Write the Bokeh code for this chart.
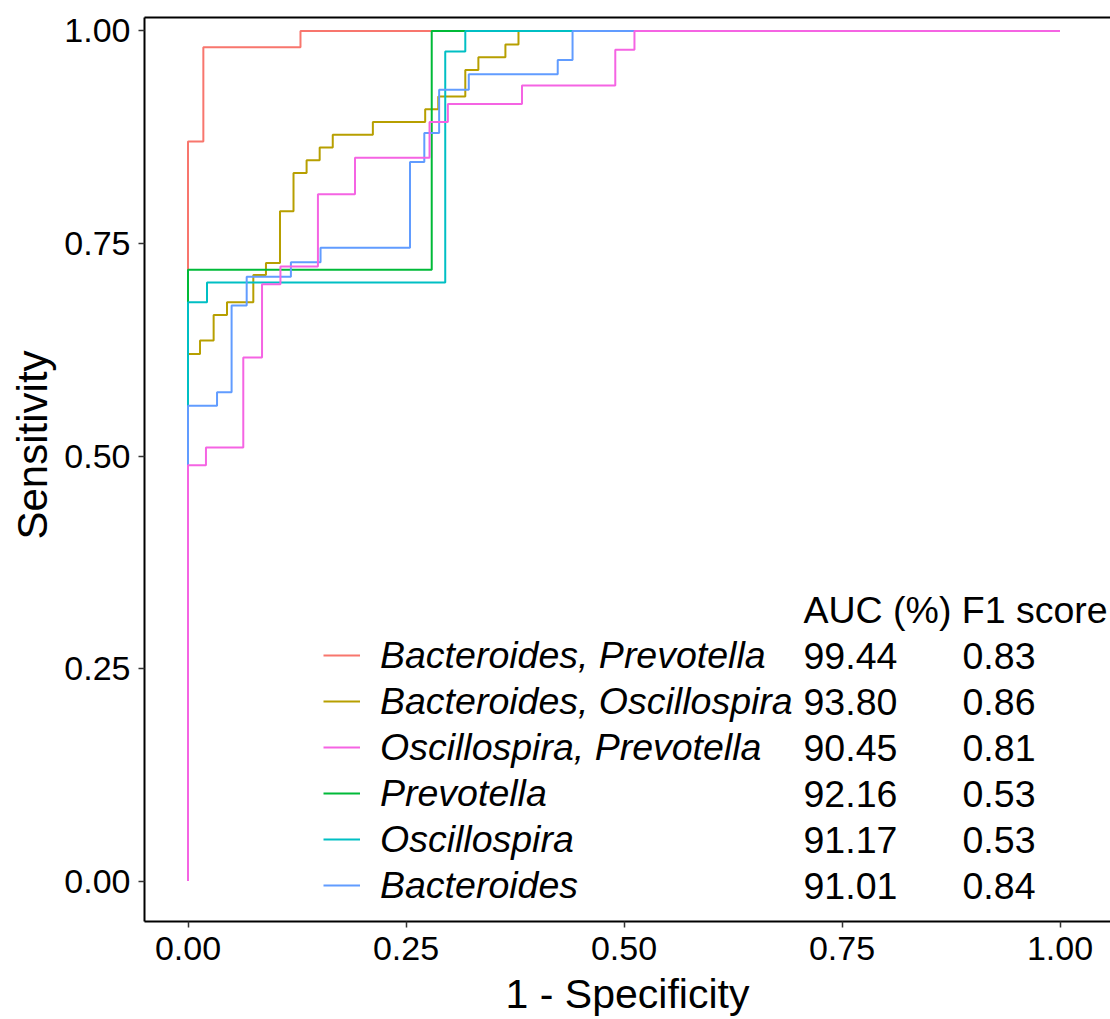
import numpy as np
from bokeh.plotting import figure
from bokeh.models import (Legend, LegendItem, LinearAxis, FixedTicker, Range1d,
                          PrintfTickFormatter, ColumnDataSource, Title)
from bokeh.embed import file_html
from bokeh.resources import INLINE
from bokeh.core.properties import value

# ---------------- data ----------------
series_names = ["Bacteroides, Prevotella", "Bacteroides, Oscillospira",
                "Oscillospira, Prevotella", "Prevotella", "Oscillospira", "Bacteroides"]
series_colors = ["#F8766D", "#B79F00", "#F564E3", "#00BA38", "#00BFC4", "#619CFF"]
auc_pct = [99.44, 93.80, 90.45, 92.16, 91.17, 91.01]
f1_score = [0.83, 0.86, 0.81, 0.53, 0.53, 0.84]

# ROC steps: 1-specificity at which sensitivity jumps, and sensitivity after the jump
bp_fpr = [0.0, 0.0176, 0.129]
bp_tpr = [0.870, 0.981, 1.0]

bo_fpr = [0.0, 0.0138, 0.0294, 0.0447, 0.0749, 0.0894, 0.1055, 0.121, 0.136, 0.151,
          0.166, 0.212, 0.272, 0.287, 0.318, 0.333, 0.364, 0.379]
bo_tpr = [0.620, 0.636, 0.666, 0.681, 0.713, 0.727, 0.788, 0.833, 0.848, 0.863,
          0.878, 0.893, 0.908, 0.923, 0.954, 0.969, 0.984, 1.0]

op_fpr = [0.0, 0.0206, 0.0634, 0.0849, 0.106, 0.149, 0.1915, 0.277, 0.298, 0.383, 0.490, 0.512]
op_tpr = [0.489, 0.510, 0.616, 0.702, 0.723, 0.808, 0.851, 0.893, 0.914, 0.936, 0.978, 1.0]

p_fpr = [0.0, 0.2795]
p_tpr = [0.719, 1.0]

o_fpr = [0.0, 0.0218, 0.295, 0.318]
o_tpr = [0.681, 0.704, 0.976, 1.0]

b_fpr = [0.0, 0.0333, 0.050, 0.0673, 0.118, 0.152, 0.2546, 0.271, 0.288, 0.322, 0.424, 0.441]
b_tpr = [0.559, 0.575, 0.677, 0.711, 0.728, 0.745, 0.846, 0.880, 0.931, 0.949, 0.966, 1.0]

roc_fpr = [bp_fpr, bo_fpr, op_fpr, p_fpr, o_fpr, b_fpr]
roc_tpr = [bp_tpr, bo_tpr, op_tpr, p_tpr, o_tpr, b_tpr]

ticks = [0.0, 0.25, 0.5, 0.75, 1.0]
x_title = "1 - Specificity"
y_title = "Sensitivity"


def roc_path(fpr, tpr):
    xs, ys = [0.0], [0.0]
    for f, t in zip(fpr, tpr):
        xs += [f, f]
        ys += [ys[-1], t]
    xs.append(1.0)
    ys.append(1.0)
    return xs, ys


# ---------------- layout (pixels) ----------------
W, H = 1110, 1019
FRAME_L, FRAME_T, FRAME_B = 144, 17, 922
ORIGIN_X, ORIGIN_Y = 187.5, 881.5  # pixel position of data (0, 0)
PPU_X, PPU_Y = 872.0, 851.0        # pixels per data unit

X0, X1 = -(ORIGIN_X - FRAME_L) / PPU_X, (W - ORIGIN_X) / PPU_X
Y0, Y1 = -(FRAME_B - ORIGIN_Y) / PPU_Y, (ORIGIN_Y - FRAME_T) / PPU_Y


def px_to_x(px):
    return (px - ORIGIN_X) / PPU_X


def px_to_y(py):
    return (ORIGIN_Y - py) / PPU_Y


FONT = "Liberation Sans"

p = figure(width=W, height=H, output_backend="svg", toolbar_location=None,
           x_range=Range1d(X0, X1), y_range=Range1d(Y0, Y1),
           min_border_left=FRAME_L, min_border_top=FRAME_T,
           min_border_bottom=H - FRAME_B, min_border_right=0,
           background_fill_color="white", border_fill_color="white",
           x_axis_label=x_title)
p.outline_line_color = None
p.grid.visible = False

for ax in (p.xaxis[0], p.yaxis[0]):
    ax.ticker = FixedTicker(ticks=ticks)
    ax.formatter = PrintfTickFormatter(format="%.2f")
    ax.minor_tick_line_color = None
    ax.major_tick_in = 0
    ax.major_tick_out = 6
    ax.major_tick_line_color = "#333333"
    ax.major_tick_line_width = 1.5
    ax.axis_line_color = "black"
    ax.axis_line_width = 2
    ax.major_label_text_font = FONT
    ax.major_label_text_font_size = "34px"
    ax.major_label_text_color = "black"

xa = p.xaxis[0]
xa.major_label_standoff = 9
xa.axis_label_standoff = 8
xa.axis_label_text_font = FONT
xa.axis_label_text_font_size = "41px"
xa.axis_label_text_font_style = "normal"
xa.axis_label_text_color = "black"
p.yaxis[0].major_label_standoff = 8

top_axis = LinearAxis(ticker=FixedTicker(ticks=[]), major_label_text_font_size="0px",
                      axis_line_color="black", axis_line_width=2,
                      major_tick_line_color=None, minor_tick_line_color=None)
p.add_layout(top_axis, "above")

# y title: starts (at its bottom end) a fixed distance above the frame bottom
p.add_layout(Title(text=y_title, align="left", vertical_align="middle",
                   offset=FRAME_B - 540, standoff=10,
                   text_font=FONT, text_font_size="42px", text_font_style="normal",
                   text_color="black"), "left")

# ---------------- curves ----------------
draw_order = [0, 1, 3, 4, 5, 2]
renderers = {}
for i in draw_order:
    xs, ys = roc_path(roc_fpr[i], roc_tpr[i])
    renderers[i] = p.line(xs, ys, line_color=series_colors[i], line_width=2)

# ---------------- legend ----------------
ROW_H = 46
ROW0_PX = 656
legend = Legend(items=[LegendItem(label=series_names[i], renderers=[renderers[i]])
                       for i in range(len(series_names))],
                location=(323 - FRAME_L, FRAME_B - (ROW0_PX - ROW_H // 2 + ROW_H * 6)),
                orientation="vertical", padding=0, margin=0, spacing=0,
                glyph_width=37, glyph_height=ROW_H, label_height=ROW_H,
                label_standoff=20, border_line_color=None, background_fill_alpha=0,
                label_text_font=FONT, label_text_font_size="37.5px",
                label_text_font_style="italic", label_text_color="black",
                label_text_baseline="middle")
p.add_layout(legend, "center")

# ---------------- table of scores ----------------
col_auc_x = px_to_x(803)
col_f1_x = px_to_x(962)
row_y = [px_to_y(ROW0_PX + ROW_H * k) for k in range(len(series_names))]

tbl = ColumnDataSource(dict(
    y=row_y,
    auc=[f"{v:.2f}" for v in auc_pct],
    f1=[f"{v:.2f}" for v in f1_score],
    xa=[col_auc_x] * len(row_y),
    xf=[col_f1_x] * len(row_y),
))
text_kw = dict(text_font=value(FONT), text_font_size="37.5px", text_color="black",
               text_baseline="middle", text_align="left")
p.text(x="xa", y="y", text="auc", source=tbl, **text_kw)
p.text(x="xf", y="y", text="f1", source=tbl, **text_kw)
p.text(x=[col_auc_x], y=[px_to_y(ROW0_PX - ROW_H)], text=["AUC (%) F1 score"], **text_kw)

open("out.html", "w").write(file_html(p, INLINE))
